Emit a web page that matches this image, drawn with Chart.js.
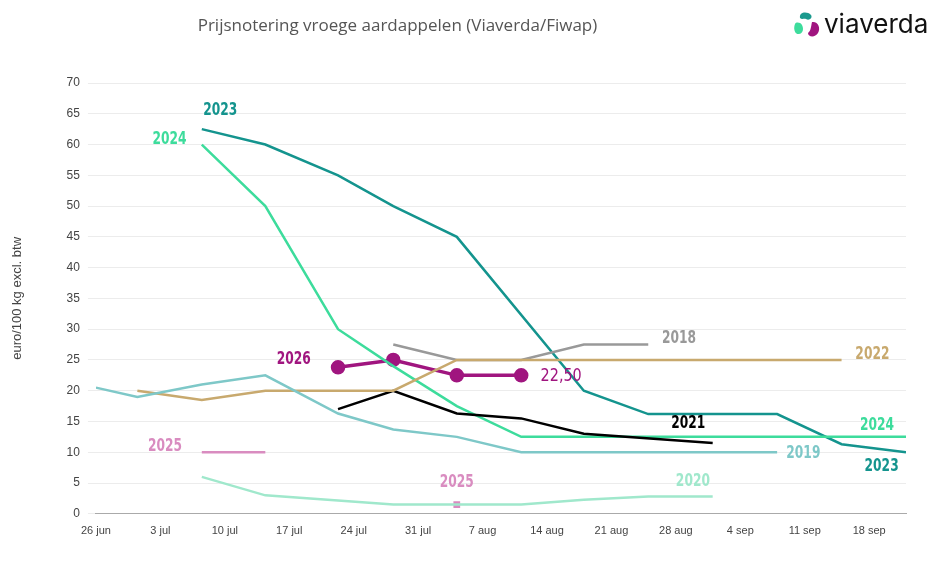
<!DOCTYPE html>
<html>
<head>
<meta charset="utf-8">
<script src="https://cdn.jsdelivr.net/npm/chart.js@4"></script>
<style>
  body { margin: 0; background: #fff; font-family: "Open Sans", Arial, sans-serif; }
  #wrap { position: relative; width: 943px; height: 575px; }
  #title { position: absolute; left: 0; width: 795px; top: 13px; text-align: center; font-size: 17px; color: #555; }
  #logo { position: absolute; left: 792px; top: 8px; font-size: 26px; color: #111; font-family: "Inter", "Open Sans", sans-serif; }
  #logo svg { vertical-align: -7px; margin-right: 2px; }
</style>
</head>
<body>
<div id="wrap">
  <div id="title">Prijsnotering vroege aardappelen (Viaverda/Fiwap)</div>
  <div id="logo"><svg width="30" height="30" viewBox="0 0 30 30">
    <path d="M8 8 C7 2 15 1 19 5 C21 8 17 11 14 9 C12 8 10 10 8 8 Z" fill="#1b9a8e"/>
    <path d="M3 14 C4 12 8 12 10 15 C12 19 11 23 7 24 C3 25 1 19 3 14 Z" fill="#3ddc9c"/>
    <path d="M20 12 C26 11 29 18 26 23 C23 28 16 27 16 23 C19 21 19 16 20 12 Z" fill="#a0157f"/>
  </svg>viaverda</div>
  <canvas id="c" width="943" height="575"></canvas>
</div>
<script>
// x = days since 26 jun
const tickLabels = ['26 jun', '3 jul', '10 jul', '17 jul', '24 jul', '31 jul', '7 aug', '14 aug', '21 aug', '28 aug', '4 sep', '11 sep', '18 sep'];

const d2023 = [[11.5, 62.5], [18.4, 60], [26.3, 55], [32.3, 50], [39.2, 45], [53, 20], [60, 16.2], [74, 16.2], [81, 11.3], [88, 10]];
const d2024 = [[11.5, 60], [18.4, 50], [26.3, 30], [32.3, 24], [39.2, 17.5], [46.2, 12.5], [88, 12.5]];
const d2019 = [[0, 20.5], [4.5, 19], [11.5, 21], [18.4, 22.5], [26.3, 16.3], [32.3, 13.7], [39.2, 12.5], [46.2, 10], [74, 10]];
const d2022 = [[4.5, 20], [11.5, 18.5], [18.4, 20], [32.3, 20], [39.2, 25], [81, 25]];
const d2018 = [[32.3, 27.5], [39.2, 25], [46.2, 25], [53, 27.5], [60, 27.5]];
const d2021 = [[26.3, 17], [32.3, 20], [39.2, 16.3], [46.2, 15.5], [53, 13], [67, 11.5]];
const d2020 = [[11.5, 6], [18.4, 3], [32.3, 1.5], [39.2, 1.5], [46.2, 1.5], [53, 2.3], [60, 2.8], [67, 2.8]];
const d2025a = [[11.5, 10], [18.4, 10]];
const d2025b = [[39.2, 1.5]];
const d2026 = [[26.3, 23.8], [32.3, 25], [39.2, 22.5], [46.2, 22.5]];

const pts = arr => arr.map(p => ({ x: p[0], y: p[1] }));

// label text, color, x(day), y(value), align
const labels = [
  ['2023', '#14948e', 13.5, 65.5, 'center'],
  ['2024', '#3ddc9c', 8, 60.8, 'center'],
  ['2026', '#a0157f', 21.5, 25, 'center'],
  ['2025', '#d98cc0', 7.5, 11, 'center'],
  ['2025', '#d98cc0', 39.2, 5, 'center'],
  ['2018', '#999999', 61.5, 28.4, 'left'],
  ['2022', '#c8a96e', 82.5, 25.9, 'left'],
  ['2021', '#000000', 62.5, 14.6, 'left'],
  ['2024', '#3ddc9c', 83, 14.3, 'left'],
  ['2019', '#7ec8c8', 75, 9.8, 'left'],
  ['2023', '#14948e', 83.5, 7.7, 'left'],
  ['2020', '#a0e8cc', 63, 5.3, 'left']
];

const seriesLabels = {
  id: 'seriesLabels',
  afterDatasetsDraw(chart) {
    const { ctx, scales: { x, y } } = chart;
    const sq = 0.72; // condense horizontally
    ctx.save();
    ctx.textBaseline = 'middle';
    labels.forEach(l => {
      const px = x.getPixelForValue(l[2]), py = y.getPixelForValue(l[3]);
      ctx.save();
      ctx.translate(px, py);
      ctx.scale(sq, 1);
      ctx.font = 'bold 17px "DejaVu Sans", sans-serif';
      ctx.fillStyle = l[1];
      ctx.textAlign = l[4];
      ctx.fillText(l[0], 0, 0);
      ctx.restore();
    });
    ctx.translate(x.getPixelForValue(48.3), y.getPixelForValue(22.3));
    ctx.scale(0.8, 1);
    ctx.font = '18px "DejaVu Sans", sans-serif';
    ctx.fillStyle = '#a0157f';
    ctx.textAlign = 'left';
    ctx.fillText('22,50', 0, 0);
    ctx.restore();
  }
};

const line = (data, color, width) => ({
  data: pts(data), borderColor: color, backgroundColor: color,
  borderWidth: width || 2.5, pointRadius: 0, tension: 0
});

new Chart(document.getElementById('c'), {
  type: 'line',
  data: {
    datasets: [
      line(d2020, '#a0e8cc'),
      line(d2019, '#7ec8c8'),
      line(d2022, '#c8a96e'),
      line(d2018, '#999999'),
      line(d2021, '#000000'),
      line(d2024, '#3ddc9c'),
      line(d2023, '#14948e'),
      line(d2025a, '#d98cc0'),
      { ...line(d2025b, '#d98cc0'), pointRadius: 3, pointStyle: 'rect' },
      { ...line(d2026, '#a0157f', 3.5), pointRadius: 5.5 }
    ]
  },
  options: {
    responsive: false,
    animation: false,
    layout: { padding: { left: 2, right: 37, top: 83, bottom: 34 } },
    plugins: { legend: { display: false }, tooltip: { enabled: false } },
    scales: {
      x: {
        type: 'linear', min: 0, max: 88,
        afterBuildTicks: ax => { ax.ticks = tickLabels.map((_, i) => ({ value: i * 7 })); },
        ticks: { callback: v => tickLabels[v / 7], color: '#444', font: { size: 11 }, maxRotation: 0 },
        grid: { display: false },
        border: { color: '#aaa' }
      },
      y: {
        min: 0, max: 70,
        ticks: { stepSize: 5, color: '#444', font: { size: 12 }, padding: 8 },
        grid: { color: '#ececec' },
        border: { display: false },
        title: { display: true, text: 'euro/100 kg excl. btw', color: '#444', font: { size: 13 }, padding: { top: 8, bottom: 33 } }
      }
    }
  },
  plugins: [seriesLabels]
});
</script>
</body>
</html>
